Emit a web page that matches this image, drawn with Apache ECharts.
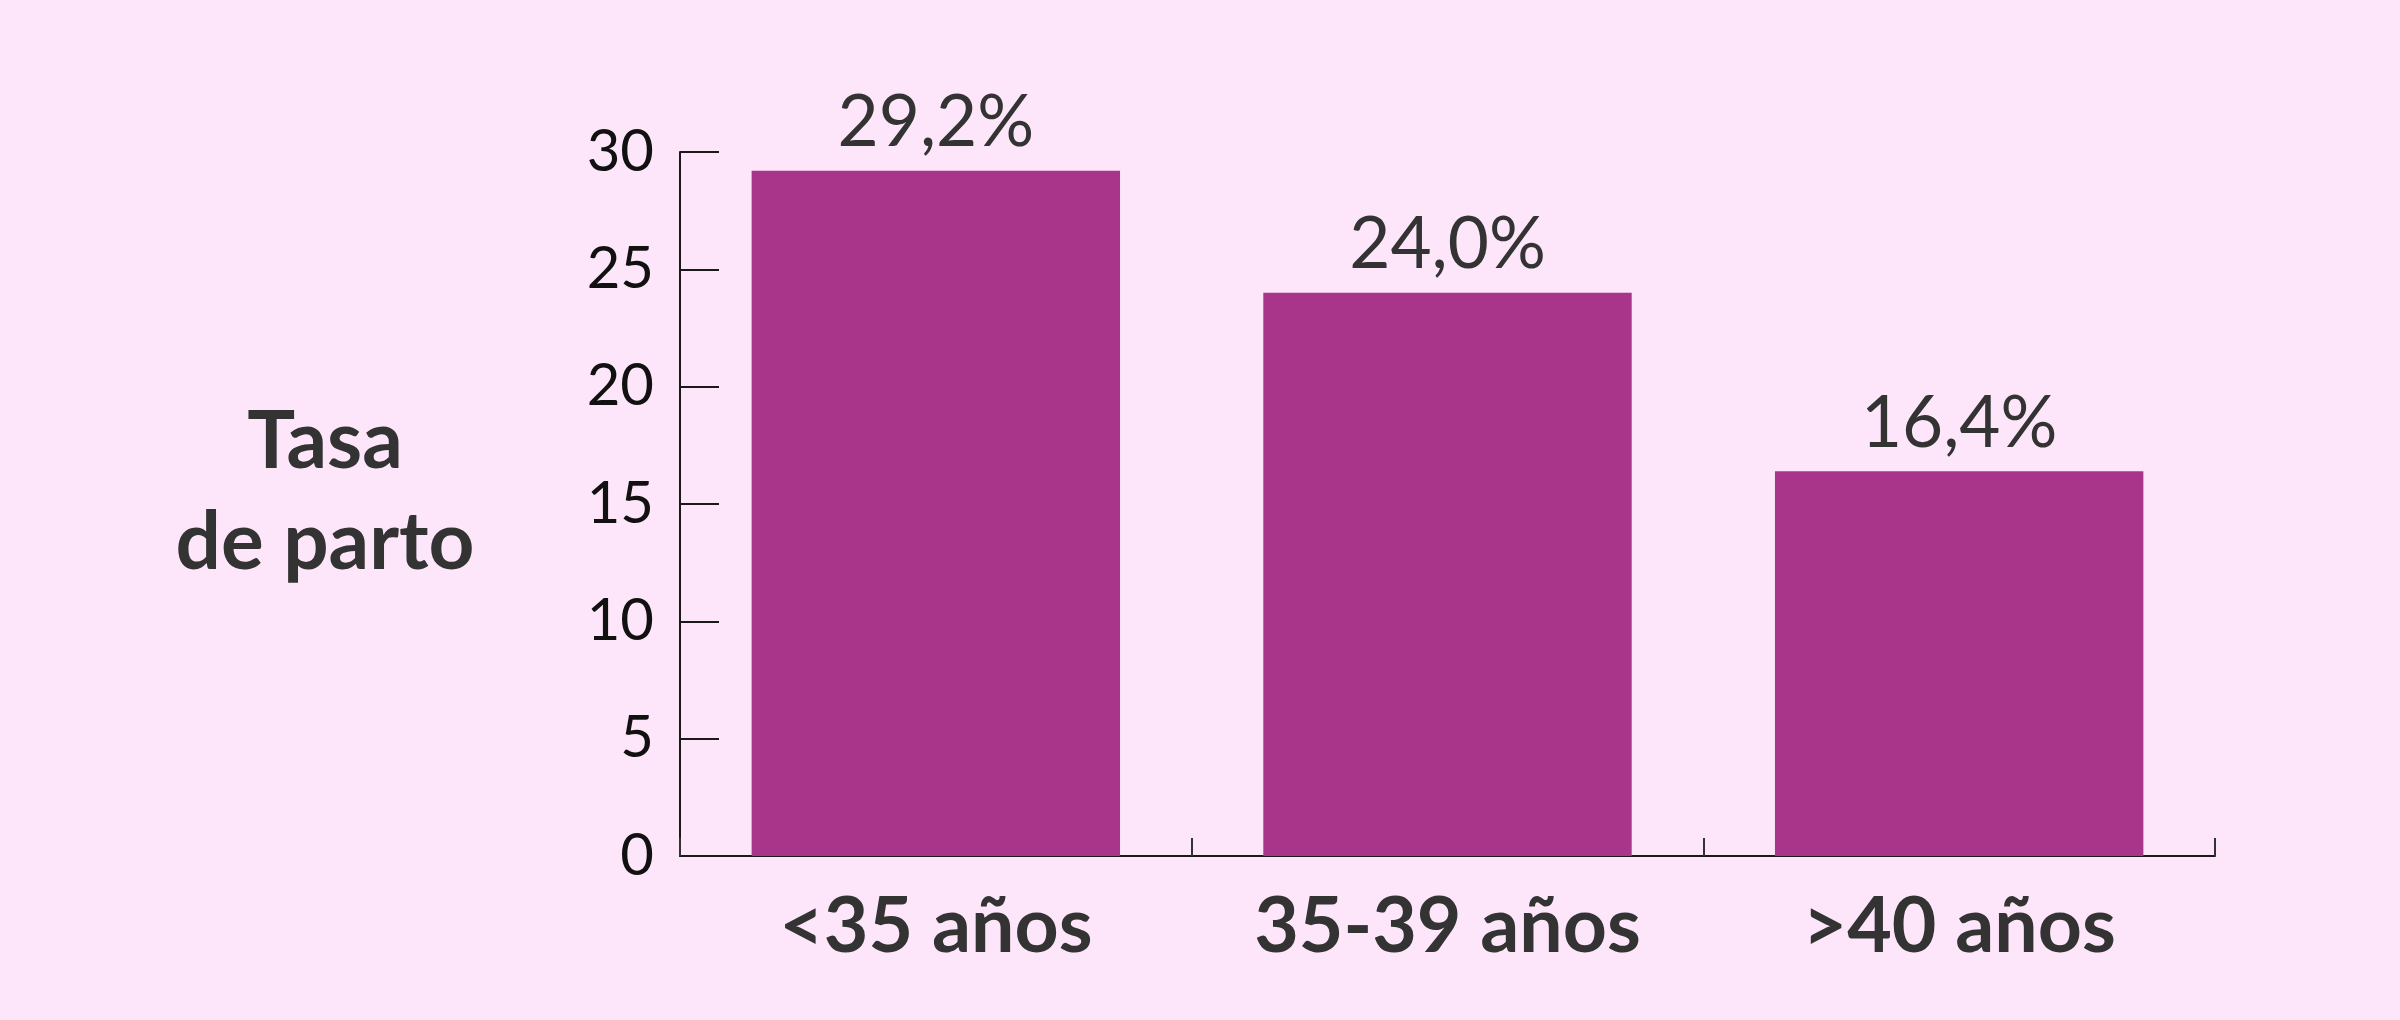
<!DOCTYPE html>
<html>
<head>
<meta charset="utf-8">
<script src="https://cdn.jsdelivr.net/npm/echarts@6/dist/echarts.min.js"></script>
<style>
  html, body { margin: 0; padding: 0; background: #FEE6FA; }
  #chart { width: 2400px; height: 1020px; }
</style>
</head>
<body>
<div id="chart"></div>
<script>
const categories = ['<35 años', '35-39 años', '>40 años'];
const birthRate = [29.2, 24.0, 16.4];
const yTitle = 'Tasa\nde parto';

const chart = echarts.init(document.getElementById('chart'));
chart.setOption({
  backgroundColor: '#FEE6FA',
  animation: false,
  grid: { left: 680, right: 185, top: 152, bottom: 164 },
  graphic: [{
    type: 'text',
    x: 325,
    y: 392,
    style: {
      text: yTitle,
      align: 'center',
      verticalAlign: 'top',
      fontFamily: 'Lato',
      fontWeight: 'bold',
      fontSize: 80,
      lineHeight: 101,
      fill: '#333333'
    }
  }],
  xAxis: {
    type: 'category',
    data: categories,
    axisLine: { show: true, lineStyle: { color: '#1a1a1a', width: 2 } },
    axisTick: { show: true, inside: true, length: 18, lineStyle: { color: '#333', width: 2 } },
    axisLabel: {
      margin: 33,
      fontFamily: 'Lato',
      fontWeight: 'bold',
      fontSize: 77,
      color: '#333333'
    }
  },
  yAxis: {
    type: 'value',
    min: 0,
    max: 30,
    interval: 5,
    splitLine: { show: false },
    axisLine: { show: true, lineStyle: { color: '#1a1a1a', width: 2 } },
    axisTick: { show: true, inside: true, length: 39, lineStyle: { color: '#1a1a1a', width: 2 } },
    axisLabel: {
      margin: 26,
      fontFamily: 'Lato',
      fontSize: 58,
      color: '#111111'
    }
  },
  series: [{
    type: 'bar',
    data: birthRate,
    barCategoryGap: '28%',
    itemStyle: { color: '#A8358A' },
    label: {
      show: true,
      position: 'top',
      distance: 12,
      fontFamily: 'Lato',
      fontSize: 71,
      color: '#333333',
      formatter: p => p.value.toFixed(1).replace('.', ',') + '%'
    }
  }]
});
</script>
</body>
</html>
